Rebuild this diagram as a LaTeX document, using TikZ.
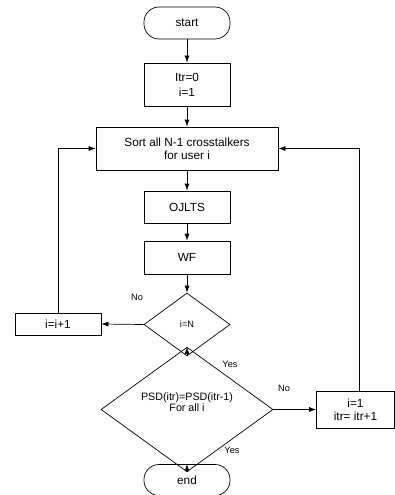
\documentclass[tikz,border=0pt]{standalone}
\usepackage{fontspec}
\setmainfont{Liberation Sans}
\usetikzlibrary{shapes.geometric,arrows.meta}

\tikzset{
  terminal/.style = {draw, rectangle, rounded corners=15pt,
    minimum width=86pt, minimum height=32pt},
  process/.style = {draw, rectangle, align=center,
    minimum width=86pt},
  decision/.style = {draw, diamond, align=center, inner sep=0pt},
  answer/.style = {font=\fontsize{9.2}{10}\selectfont},
  flow/.style = {-{Latex[length=7pt,width=5pt]}}
}

\begin{document}
\begin{tikzpicture}[x=1pt, y=-1pt, line width=0.7pt,
  every node/.style = {font=\fontsize{11.8}{13}\selectfont}]
  \useasboundingbox (0,0) rectangle (395,495);

  % main column
  \node[terminal] (start) at (187,23) {start};
  \node[process, minimum height=43pt] (init) at (187,84.5) {Itr=0\\[2pt] i=1};
  \node[process, minimum width=182pt, minimum height=43pt] (sort) at (187,148.5)
    {Sort all N-1 crosstalkers\\ for user i};
  \node[process, minimum height=32pt] (ojlts) at (187,207) {OJLTS};
  \node[process, minimum height=33pt] (wf) at (187,257.5) {WF};
  \node[decision, minimum width=86pt, minimum height=63pt,
    font=\fontsize{9.2}{10}\selectfont] (test) at (187,324.5) {i=N};
  \node[decision, minimum width=172pt, minimum height=73pt,
    font=\fontsize{10.7}{10.5}\selectfont] (conv) at (187,409.5)
    {PSD(itr)=PSD(itr-1)\\ For all i\\[4pt]};
  \node[terminal, minimum height=31pt] (stop) at (187,480) {end};

  % side boxes
  \node[process, minimum height=22pt] (incr) at (58,324) {i=i+1};
  \node[process, minimum width=78pt, minimum height=37pt] (reset) at (355.5,409.5)
    {i=1\\ itr= itr+1};

  % branch labels
  \node[answer] (no1) at (137,297) {No};
  \node[answer] (yes1) at (230,364) {Yes};
  \node[answer] (no2) at (284,388) {No};
  \node[answer] (yes2) at (232,450) {Yes};

  \draw[flow] (start) -- (init);
  \draw[flow] (init) -- (sort);
  \draw[flow] (sort) -- (ojlts);
  \draw[flow] (ojlts) -- (wf);
  \draw[flow] (wf) -- (test);
  \draw[flow] (test.west) -- (incr.east);
  \draw[flow] (test.south) -- (conv.north);
  \draw[flow] (conv.east) -- (reset.west);
  \draw[flow] (conv.south) -- (stop.north);
  \draw[flow] (incr.north) |- (sort.west);
  \draw[flow] ([xshift=3.5pt]reset.north) |- (sort.east);
\end{tikzpicture}
\end{document}
